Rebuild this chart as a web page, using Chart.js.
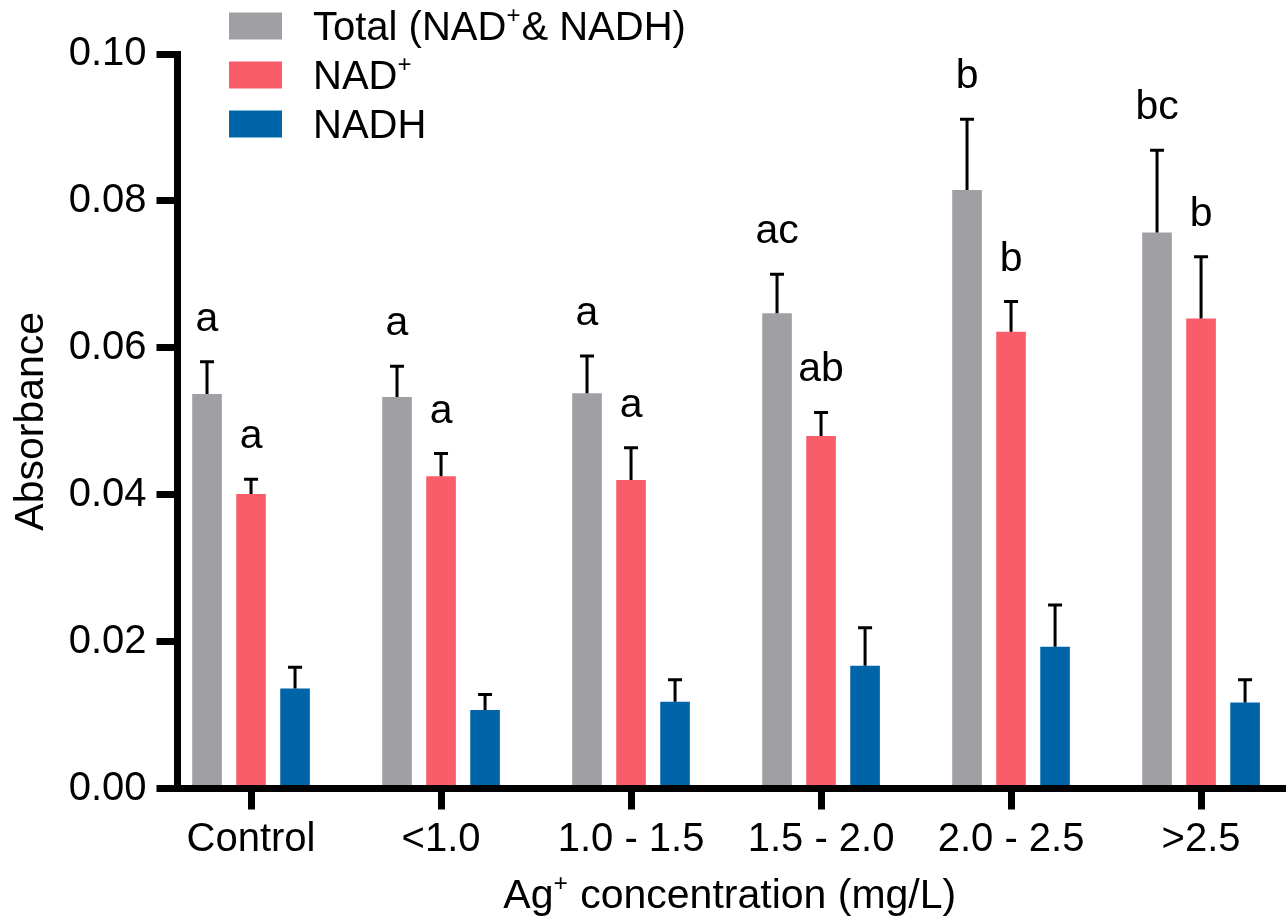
<!DOCTYPE html>
<html>
<head>
<meta charset="utf-8">
<title>NAD+ and NADH absorbance</title>
<script src="https://cdn.jsdelivr.net/npm/chart.js@4.4.1/dist/chart.umd.min.js"></script>
<style>
  html, body { margin: 0; padding: 0; background: #fff; }
  #wrap { width: 1287px; height: 917px; position: relative; }
</style>
</head>
<body>
<div id="wrap"><canvas id="nadChart"></canvas></div>
<script>
const FONT = '"Liberation Sans", Arial, Helvetica, sans-serif';

// groups on the x axis and the y tick values
const categories = ['Control', '<1.0', '1.0 - 1.5', '1.5 - 2.0', '2.0 - 2.5', '>2.5'];
const yTickValues = [0, 0.02, 0.04, 0.06, 0.08, 0.10];

// means, SD (upper error bar) and significance letters per series
const totalMean = [0.0537, 0.0533, 0.0538, 0.0647, 0.0815, 0.0757];
const totalSd = [0.0044, 0.0042, 0.0051, 0.0053, 0.0096, 0.0112];
const totalLetters = ['a', 'a', 'a', 'ac', 'b', 'bc'];

const nadMean = [0.0401, 0.0425, 0.0420, 0.0480, 0.0622, 0.0640];
const nadSd = [0.0020, 0.0031, 0.0044, 0.0032, 0.0041, 0.0084];
const nadLetters = ['a', 'a', 'a', 'ab', 'b', 'b'];

const nadhMean = [0.0136, 0.0107, 0.0118, 0.0167, 0.0193, 0.0117];
const nadhSd = [0.0029, 0.0021, 0.0030, 0.0052, 0.0057, 0.0031];
const nadhLetters = ['', '', '', '', '', ''];

// '^+' marks a superscript plus
const seriesLabels = ['Total (NAD^+& NADH)', 'NAD^+', 'NADH'];
const xTitle = 'Ag^+ concentration (mg/L)';
const yTitle = 'Absorbance';

const colors = ['#a09fa4', '#fa5d6a', '#0064a8'];

function toPoints(arr) {
    return arr.map((v, i) => ({ x: i, y: v }));
}

// split "NAD^+" into [['NAD', false], ['+', true]]
function richParts(text) {
    return text.split(/(\^\+)/).filter(s => s.length).map(s => s === '^+' ? ['+', true] : [s, false]);
}

function richWidth(ctx, parts, size) {
    let w = 0;
    parts.forEach(([t, sup]) => {
        ctx.font = (sup ? size * 0.6 : size) + 'px ' + FONT;
        w += ctx.measureText(t).width + (sup ? 1 : 0);
    });
    return w;
}

function drawRich(ctx, text, x, y, size) {
    const parts = richParts(text);
    let cx = x;
    parts.forEach(([t, sup]) => {
        ctx.font = (sup ? size * 0.6 : size) + 'px ' + FONT;
        ctx.fillText(t, cx, sup ? y - size * 0.42 : y);
        cx += ctx.measureText(t).width + (sup ? 1 : 0);
    });
}

// error bars (upper only) and letters above them
const errorBarPlugin = {
    id: 'errorBars',
    afterDatasetsDraw(chart) {
        const ctx = chart.ctx;
        const yScale = chart.scales.y;
        ctx.save();
        ctx.strokeStyle = '#000';
        ctx.fillStyle = '#000';
        ctx.lineWidth = 3;
        ctx.lineCap = 'butt';
        chart.data.datasets.forEach((ds, di) => {
            const meta = chart.getDatasetMeta(di);
            meta.data.forEach((bar, j) => {
                const top = yScale.getPixelForValue(ds.means[j] + ds.sd[j]);
                ctx.beginPath();
                ctx.moveTo(bar.x, bar.y);
                ctx.lineTo(bar.x, top);
                ctx.moveTo(bar.x - 7, top);
                ctx.lineTo(bar.x + 7, top);
                ctx.stroke();
                const letter = ds.letters[j];
                if (letter) {
                    ctx.font = '41px ' + FONT;
                    ctx.textAlign = 'center';
                    ctx.textBaseline = 'alphabetic';
                    ctx.fillText(letter, bar.x, top - 31);
                }
            });
        });
        ctx.restore();
    }
};

// legend in the top-left corner and both axis titles
const annotatePlugin = {
    id: 'annotate',
    afterDraw(chart) {
        const ctx = chart.ctx;
        const area = chart.chartArea;
        ctx.save();
        ctx.fillStyle = '#000';
        ctx.textAlign = 'left';
        ctx.textBaseline = 'alphabetic';

        chart.data.datasets.forEach((ds, i) => {
            const rowMid = 26 + i * 49;
            ctx.fillStyle = ds.backgroundColor;
            ctx.fillRect(area.left + 51.5, rowMid - 13.5, 53, 27);
            ctx.fillStyle = '#000';
            drawRich(ctx, ds.label, area.left + 135.5, rowMid + 14, 40);
        });

        const w = richWidth(ctx, richParts(xTitle), 41);
        drawRich(ctx, xTitle, (area.left + area.right) / 2 - w / 2, chart.height - 9, 41);

        ctx.save();
        ctx.translate(43, (area.top + area.bottom) / 2);
        ctx.rotate(-Math.PI / 2);
        ctx.font = '41px ' + FONT;
        ctx.textAlign = 'center';
        ctx.fillText(yTitle, 0, 0);
        ctx.restore();

        ctx.restore();
    }
};

const means = [totalMean, nadMean, nadhMean];
const sds = [totalSd, nadSd, nadhSd];
const letters = [totalLetters, nadLetters, nadhLetters];

const datasets = seriesLabels.map((label, i) => ({
    label: label,
    data: toPoints(means[i]),
    means: means[i],
    sd: sds[i],
    letters: letters[i],
    backgroundColor: colors[i],
    borderWidth: 0,
    categoryPercentage: 0.695,
    barPercentage: 0.673
}));

new Chart(document.getElementById('nadChart'), {
    type: 'bar',
    data: { datasets: datasets },
    options: {
        responsive: true,
        maintainAspectRatio: false,
        animation: false,
        layout: { padding: { top: 54, right: 5, left: 0, bottom: 0 } },
        plugins: {
            legend: { display: false },
            tooltip: { enabled: false }
        },
        scales: {
            x: {
                type: 'linear',
                min: -0.387,
                max: 5.426,
                offset: false,
                z: 1,
                afterBuildTicks: (s) => { s.ticks = categories.map((c, i) => ({ value: i })); },
                afterFit: (s) => { s.height = 128.5; },
                ticks: {
                    callback: (v) => categories[v],
                    font: { family: FONT, size: 40 },
                    color: '#000',
                    padding: 6,
                    maxRotation: 0,
                    autoSkip: false
                },
                grid: { offset: false, drawOnChartArea: false, drawTicks: true, tickLength: 21, lineWidth: 7, color: '#000' },
                border: { display: true, width: 7, color: '#000' }
            },
            y: {
                min: 0,
                max: 0.1,
                z: 1,
                afterBuildTicks: (s) => { s.ticks = yTickValues.map(v => ({ value: v })); },
                afterFit: (s) => { s.width = 177.5; },
                ticks: {
                    callback: (v) => v.toFixed(2),
                    font: { family: FONT, size: 40 },
                    color: '#000',
                    padding: 10
                },
                grid: { drawOnChartArea: false, drawTicks: true, tickLength: 21, lineWidth: 7, color: '#000' },
                border: { display: true, width: 7, color: '#000' }
            }
        }
    },
    plugins: [errorBarPlugin, annotatePlugin]
});
</script>
</body>
</html>
